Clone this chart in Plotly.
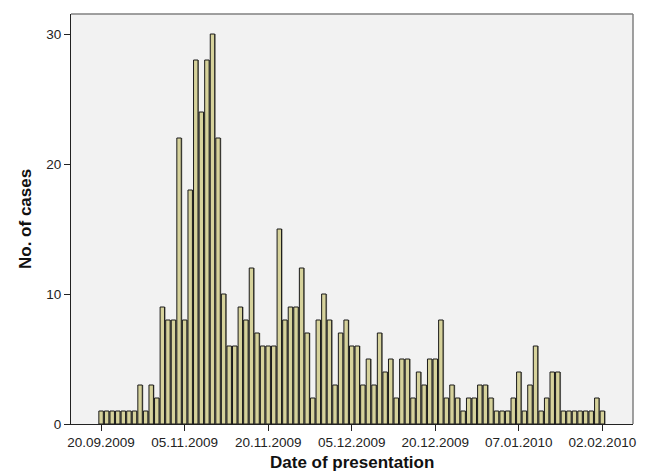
import plotly.graph_objects as go

# Daily case counts, one bar per presentation date (in order)
cases = [
    1, 1, 1, 1, 1, 1, 1, 3, 1, 3, 2, 9, 8, 8, 22,
    8, 18, 28, 24, 28, 30, 22, 10, 6, 6, 9, 8, 12, 7, 6,
    6, 6, 15, 8, 9, 9, 12, 7, 2, 8, 10, 8, 3, 7, 8,
    6, 6, 3, 5, 3, 7, 4, 5, 2, 5, 5, 2, 4, 3, 5,
    5, 8, 2, 3, 2, 1, 2, 2, 3, 3, 2, 1, 1, 1, 2,
    4, 1, 3, 6, 1, 2, 4, 4, 1, 1, 1, 1, 1, 1, 2,
    1,
]
positions = list(range(len(cases)))

# Labelled dates along the category axis
tick_positions = [0, 15, 30, 45, 60, 75, 90]
tick_labels = ["20.09.2009", "05.11.2009", "20.11.2009", "05.12.2009",
               "20.12.2009", "07.01.2010", "02.02.2010"]

y_ticks = [0, 10, 20, 30]

W, H = 646, 473
M_L, M_R, M_T, M_B = 71, 13, 14, 49
plot_w = W - M_L - M_R
plot_h = H - M_T - M_B

fig = go.Figure()

# soft grey shadow behind each bar
fig.add_trace(go.Bar(
    x=[p + 0.18 for p in positions], y=cases, width=0.8,
    marker=dict(color="#8a8a80", line=dict(width=0)),
    hoverinfo="skip", showlegend=False,
))
fig.add_trace(go.Bar(
    x=positions, y=cases, width=0.8,
    marker=dict(color="#d6d29b", line=dict(color="#1a1a1a", width=1)),
    showlegend=False,
))

fig.update_layout(
    width=W, height=H,
    margin=dict(l=M_L, r=M_R, t=M_T, b=M_B),
    paper_bgcolor="white",
    plot_bgcolor="#f2f2f2",
    barmode="overlay",
    font=dict(family="Liberation Sans, Arial, sans-serif", size=13, color="#222"),
    xaxis=dict(
        range=[-5.4, 95.5], automargin=False,
        tickmode="array", tickvals=tick_positions, ticktext=tick_labels,
        ticks="outside", ticklen=6, tickcolor="#222", tickwidth=1,
        showgrid=False, zeroline=False,
        showline=True, linecolor="#222", linewidth=1,
        tickfont=dict(size=13.5),
    ),
    yaxis=dict(
        range=[0, 31.54], automargin=False,
        tickmode="array", tickvals=y_ticks,
        ticks="outside", ticklen=6, tickcolor="#222", tickwidth=1,
        showgrid=False, zeroline=False,
        showline=True, linecolor="#222", linewidth=1,
        tickfont=dict(size=13.5),
    ),
    annotations=[
        dict(text="<b>Date of presentation</b>", xref="paper", yref="paper",
             x=0.5, y=-(462 - (H - M_B)) / plot_h, xanchor="center", yanchor="middle",
             showarrow=False, font=dict(size=17, color="#111")),
        dict(text="<b>No. of cases</b>", xref="paper", yref="paper",
             x=-(M_L - 25) / plot_w, y=0.5, xanchor="center", yanchor="middle",
             textangle=-90, showarrow=False, font=dict(size=17, color="#111")),
    ],
    shapes=[
        # lighter frame on the top and right sides of the plot area
        dict(type="line", xref="paper", yref="paper", x0=0, x1=1, y0=1, y1=1,
             line=dict(color="#808080", width=1.5)),
        dict(type="line", xref="paper", yref="paper", x0=1, x1=1, y0=0, y1=1,
             line=dict(color="#808080", width=1.5)),
    ],
)

fig.write_html("out.html")
